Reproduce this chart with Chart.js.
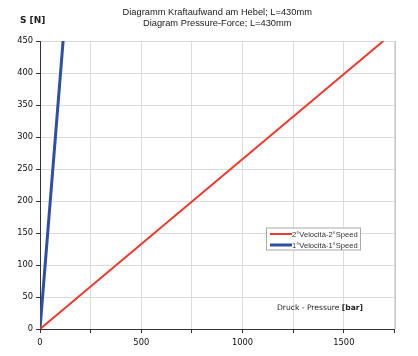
<!DOCTYPE html>
<html>
<head>
<meta charset="utf-8">
<script src="https://cdn.jsdelivr.net/npm/chart.js@4/dist/chart.umd.min.js"></script>
<style>
html,body{margin:0;padding:0;background:#fff;}
#wrap{width:418px;height:356px;position:relative;}
</style>
</head>
<body>
<div id="wrap"><canvas id="c" width="418" height="356"></canvas></div>
<script>
const titleLines = ["Diagramm Kraftaufwand am Hebel; L=430mm", "Diagram Pressure-Force; L=430mm"];
const yAxisTitle = "S [N]";
const xAxisTitle = "Druck - Pressure ";
const xAxisUnit = "[bar]";
const seriesNames = ["2°Velocità-2°Speed", "1°Velocità-1°Speed"];
const speed2Pressure = [0, 1695];
const speed2Force = [0, 450];
const speed1Pressure = [0, 114];
const speed1Force = [0, 450];
const xTicksLabeled = [0, 500, 1000, 1500];

const toPts = (xs, ys) => xs.map((x, i) => ({x: x, y: ys[i]}));

const overlay = {
  id: 'overlay',
  afterDraw(chart) {
    const ctx = chart.ctx;
    const a = chart.chartArea;
    ctx.save();
    ctx.fillStyle = '#222';
    ctx.font = '9.3px "Liberation Sans", Arial, sans-serif';
    ctx.textAlign = 'center';
    ctx.textBaseline = 'middle';
    const cx = (a.left + a.right) / 2;
    ctx.fillText(titleLines[0], cx, 12);
    ctx.fillText(titleLines[1], cx, 23);
    ctx.font = 'bold 9px "DejaVu Sans", sans-serif';
    ctx.textAlign = 'left';
    ctx.fillText(yAxisTitle, 20, 21);
    ctx.font = '7.6px "DejaVu Sans", sans-serif';
    const w1 = ctx.measureText(xAxisTitle).width;
    ctx.font = 'bold 7.6px "DejaVu Sans", sans-serif';
    const w2 = ctx.measureText(xAxisUnit).width;
    const tx = 363 - w1 - w2;
    ctx.font = '7.6px "DejaVu Sans", sans-serif';
    ctx.fillText(xAxisTitle, tx, 308);
    ctx.font = 'bold 7.6px "DejaVu Sans", sans-serif';
    ctx.fillText(xAxisUnit, tx + w1, 308);
    const lx = 266, ly = 227.5, lw = 95, lh = 23;
    ctx.fillStyle = '#fff';
    ctx.fillRect(lx, ly, lw, lh);
    ctx.strokeStyle = '#aaa';
    ctx.lineWidth = 1;
    ctx.strokeRect(lx + 0.5, ly + 0.5, lw - 1, lh - 1);
    ctx.font = '7.6px "Liberation Sans", Arial, sans-serif';
    ctx.fillStyle = '#333';
    chart.data.datasets.forEach((ds, i) => {
      const yy = ly + 6.5 + i * 11;
      ctx.strokeStyle = ds.borderColor;
      ctx.lineWidth = ds.borderWidth;
      ctx.beginPath();
      ctx.moveTo(lx + 4, yy);
      ctx.lineTo(lx + 26, yy);
      ctx.stroke();
      ctx.fillText(ds.label, lx + 26, yy + 0.5);
    });
    ctx.restore();
  }
};

new Chart(document.getElementById('c'), {
  type: 'scatter',
  data: {
    datasets: [
      {label: seriesNames[0], data: toPts(speed2Pressure, speed2Force), showLine: true, borderColor: '#f0382c', borderWidth: 2, pointRadius: 0, fill: false},
      {label: seriesNames[1], data: toPts(speed1Pressure, speed1Force), showLine: true, borderColor: '#2f4ea6', borderWidth: 3, pointRadius: 0, fill: false}
    ]
  },
  options: {
    responsive: false,
    animation: false,
    devicePixelRatio: 1,
    layout: {padding: {top: 41, right: 23.5, bottom: 0, left: 0}},
    plugins: {legend: {display: false}, tooltip: {enabled: false}, title: {display: false}},
    scales: {
      x: {
        type: 'linear', min: 0, max: 1750,
        afterFit: s => { s.height = 27; },
        ticks: {stepSize: 250, autoSkip: false, maxRotation: 0, padding: 5,
          color: '#111', font: {family: '"DejaVu Sans", sans-serif', size: 8.3},
          callback: v => xTicksLabeled.includes(v) ? String(v) : ''},
        grid: {color: '#dcdcdc', lineWidth: 1, tickLength: 4, tickColor: '#333'},
        border: {color: '#333', width: 1}
      },
      y: {
        type: 'linear', min: 0, max: 450,
        afterFit: s => { s.width = 40; },
        ticks: {stepSize: 50, padding: 3, color: '#111', font: {family: '"DejaVu Sans", sans-serif', size: 8.3}},
        grid: {color: '#dcdcdc', lineWidth: 1, tickLength: 4, tickColor: '#333'},
        border: {color: '#333', width: 1}
      }
    }
  },
  plugins: [overlay, {
    id: 'rightBorder',
    beforeDatasetsDraw(chart) {
      const a = chart.chartArea, ctx = chart.ctx;
      ctx.save();
      ctx.strokeStyle = '#c8c8c8';
      ctx.lineWidth = 1;
      ctx.beginPath();
      ctx.moveTo(Math.round(a.right) + 0.5, a.top);
      ctx.lineTo(Math.round(a.right) + 0.5, a.bottom);
      ctx.stroke();
      ctx.restore();
    }
  }]
});
</script>
</body>
</html>
